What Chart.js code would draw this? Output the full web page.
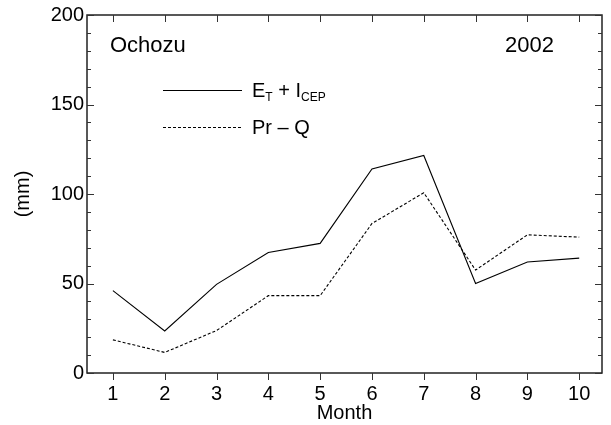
<!DOCTYPE html>
<html>
<head>
<meta charset="utf-8">
<script src="https://cdn.jsdelivr.net/npm/chart.js@4"></script>
<style>
  html, body { margin: 0; padding: 0; background: #fff; }
  #wrap { width: 611px; height: 425px; position: relative; }
</style>
</head>
<body>
<div id="wrap"><canvas id="c" width="611" height="425"></canvas></div>
<script>
const months = [1, 2, 3, 4, 5, 6, 7, 8, 9, 10];
const etIcep = [46, 23.5, 49.5, 67.3, 72.4, 114, 121.5, 50, 62, 64.2];
const prQ = [18.5, 11.5, 23.7, 43.2, 43.2, 83.5, 100.7, 57.5, 77.2, 75.9];
const yMajorTicks = [0, 50, 100, 150, 200];
const yMinorTicks = [10, 20, 30, 40, 60, 70, 80, 90, 110, 120, 130, 140, 160, 170, 180, 190];
const xTicks = months;
const siteLabel = 'Ochozu';
const yearLabel = '2002';
const xTitle = 'Month';
const yTitle = '(mm)';

const FONT = 'Liberation Sans, Arial, Helvetica, sans-serif';

const framePlugin = {
  id: 'frame',
  afterDatasetsDraw(chart) {
    const ctx = chart.ctx;
    const x = chart.scales.x, y = chart.scales.y;
    const a = chart.chartArea;
    ctx.save();
    ctx.strokeStyle = '#222';
    ctx.lineWidth = 1.5;
    ctx.strokeRect(a.left, a.top, a.right - a.left, a.bottom - a.top);
    ctx.lineWidth = 1;
    ctx.strokeStyle = '#333';
    ctx.beginPath();
    yMajorTicks.forEach(v => {
      const py = Math.round(y.getPixelForValue(v)) + 0.5;
      ctx.moveTo(a.left, py); ctx.lineTo(a.left + 7, py);
      ctx.moveTo(a.right, py); ctx.lineTo(a.right - 7, py);
    });
    yMinorTicks.forEach(v => {
      const py = Math.round(y.getPixelForValue(v)) + 0.5;
      ctx.moveTo(a.left, py); ctx.lineTo(a.left + 4, py);
      ctx.moveTo(a.right, py); ctx.lineTo(a.right - 4, py);
    });
    xTicks.forEach(v => {
      const px = Math.round(x.getPixelForValue(v)) + 0.5;
      ctx.moveTo(px, a.bottom); ctx.lineTo(px, a.bottom + 7);
      ctx.moveTo(px, a.top); ctx.lineTo(px, a.top + 7);
    });
    ctx.stroke();

    ctx.fillStyle = '#000';
    ctx.textBaseline = 'alphabetic';
    ctx.font = '22px ' + FONT;
    ctx.textAlign = 'left';
    ctx.fillText(siteLabel, 110, 52);
    ctx.fillText(yearLabel, 505, 52);

    const lx0 = 163, lx1 = 242;
    ctx.strokeStyle = '#000';
    ctx.lineWidth = 1;
    ctx.setLineDash([]);
    ctx.beginPath(); ctx.moveTo(lx0, 90.5); ctx.lineTo(lx1, 90.5); ctx.stroke();
    ctx.setLineDash([3, 2]);
    ctx.beginPath(); ctx.moveTo(lx0, 127.5); ctx.lineTo(lx1, 127.5); ctx.stroke();
    ctx.setLineDash([]);

    let tx = 252;
    const b1 = 97;
    ctx.font = '20px ' + FONT;
    ctx.fillText('E', tx, b1); tx += ctx.measureText('E').width;
    ctx.font = '12px ' + FONT;
    ctx.fillText('T', tx, b1 + 4); tx += ctx.measureText('T').width;
    ctx.font = '20px ' + FONT;
    ctx.fillText(' + I', tx, b1); tx += ctx.measureText(' + I').width;
    ctx.font = '12px ' + FONT;
    ctx.fillText('CEP', tx, b1 + 4);

    ctx.font = '20px ' + FONT;
    ctx.fillText('Pr \u2013 Q', 252, 134);
    ctx.restore();
  }
};

new Chart(document.getElementById('c'), {
  type: 'line',
  data: {
    datasets: [
      {
        label: 'ET + ICEP',
        data: months.map((m, i) => ({ x: m, y: etIcep[i] })),
        borderColor: '#000',
        borderWidth: 1.1,
        pointRadius: 0,
        tension: 0,
        fill: false
      },
      {
        label: 'Pr - Q',
        data: months.map((m, i) => ({ x: m, y: prQ[i] })),
        borderColor: '#000',
        borderWidth: 1.1,
        borderDash: [3, 2],
        pointRadius: 0,
        tension: 0,
        fill: false
      }
    ]
  },
  options: {
    responsive: false,
    animation: false,
    devicePixelRatio: 1,
    layout: { padding: { left: 0, right: 9, top: 14, bottom: 0 } },
    plugins: { legend: { display: false }, tooltip: { enabled: false } },
    scales: {
      x: {
        type: 'linear',
        min: 0.5,
        max: 10.44,
        afterBuildTicks: s => { s.ticks = xTicks.map(v => ({ value: v })); },
        afterFit: s => { s.height = 52; },
        grid: { display: false, drawTicks: false },
        border: { display: false },
        ticks: {
          color: '#000',
          font: { family: FONT, size: 20 },
          padding: 9,
          maxRotation: 0,
          autoSkip: false,
          callback: v => String(v)
        },
        title: {
          display: true,
          text: xTitle,
          color: '#000',
          font: { family: FONT, size: 20, lineHeight: 1.2 },
          padding: { top: 0, bottom: 0 }
        }
      },
      y: {
        type: 'linear',
        min: 0,
        max: 200,
        afterBuildTicks: s => { s.ticks = yMajorTicks.map(v => ({ value: v })); },
        afterFit: s => { s.width = 87; },
        grid: { display: false, drawTicks: false },
        border: { display: false },
        ticks: {
          color: '#000',
          font: { family: FONT, size: 20 },
          padding: 3,
          callback: v => String(v)
        },
        title: {
          display: true,
          text: yTitle,
          color: '#000',
          font: { family: FONT, size: 20, lineHeight: 1.2 },
          padding: { top: 11, bottom: 0 }
        }
      }
    }
  },
  plugins: [framePlugin]
});
</script>
</body>
</html>
